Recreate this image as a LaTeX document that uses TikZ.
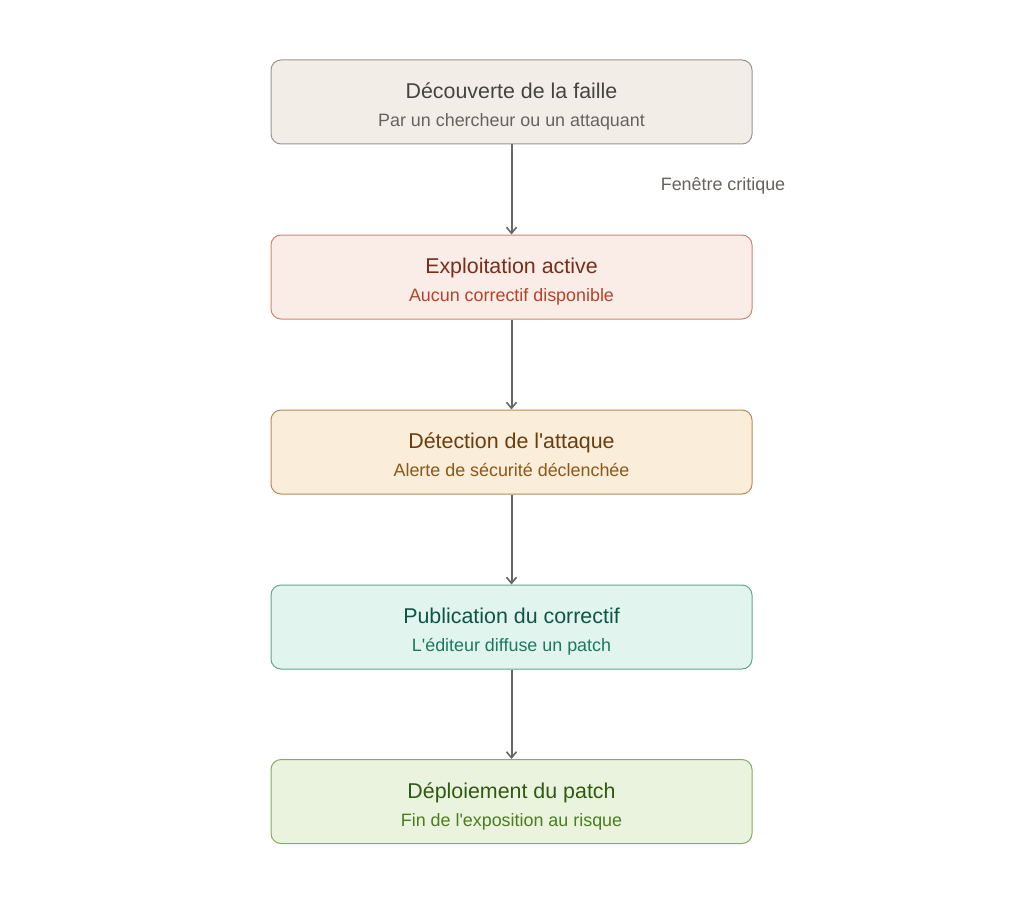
\documentclass[tikz,border=0pt]{standalone}
\usepackage{fontspec}
\setmainfont{Liberation Sans}[Ligatures=TeXOff]
\usetikzlibrary{arrows.meta}
\definecolor{f1}{HTML}{F2EEE7}\definecolor{d1}{HTML}{9A968F}\definecolor{t1}{HTML}{454340}\definecolor{s1}{HTML}{66625D}
\definecolor{f2}{HTML}{FAECE7}\definecolor{d2}{HTML}{C98873}\definecolor{t2}{HTML}{7A2E1A}\definecolor{s2}{HTML}{B3442A}
\definecolor{f3}{HTML}{FAEDDA}\definecolor{d3}{HTML}{B58C58}\definecolor{t3}{HTML}{6B3D0C}\definecolor{s3}{HTML}{8E5714}
\definecolor{f4}{HTML}{E1F4EE}\definecolor{d4}{HTML}{62A88C}\definecolor{t4}{HTML}{0F5546}\definecolor{s4}{HTML}{1A7A5E}
\definecolor{f5}{HTML}{EAF3DE}\definecolor{d5}{HTML}{86AA68}\definecolor{t5}{HTML}{2F5A12}\definecolor{s5}{HTML}{4B7D1E}
\definecolor{arr}{HTML}{666666}
\tikzset{
  stage/.style={rounded corners=10pt, line width=1pt, minimum width=481pt, minimum height=84pt, inner sep=0pt},
  ttl/.style={anchor=base, inner sep=0pt, font=\fontsize{21.4}{25}\selectfont},
  sub/.style={anchor=base, inner sep=0pt, font=\fontsize{17.9}{21}\selectfont},
  conn/.style={draw=arr, line width=2pt, -{Straight Barb[length=6pt,width=10pt,line width=1.6pt]}},
}
\begin{document}
\begin{tikzpicture}[x=1pt,y=-1pt]
\useasboundingbox (0,0) rectangle (1024,904);
\fill[white] (0,0) rectangle (1024,904);
\node[stage, fill=f1, draw=d1] (a) at (511.5,102) {};
\node[stage, fill=f2, draw=d2] (b) at (511.5,277) {};
\node[stage, fill=f3, draw=d3] (c) at (511.5,452) {};
\node[stage, fill=f4, draw=d4] (d) at (511.5,627) {};
\node[stage, fill=f5, draw=d5] (e) at (511.5,801.5) {};
\node[ttl, text=t1] (at) at ([yshift=3.5pt]a.center) {Découverte de la faille};
\node[sub, text=s1] (as) at ([yshift=-24.5pt]a.center) {Par un chercheur ou un attaquant};
\node[ttl, text=t2] (bt) at ([yshift=3.5pt]b.center) {Exploitation active};
\node[sub, text=s2] (bs) at ([yshift=-24.5pt]b.center) {Aucun correctif disponible};
\node[ttl, text=t3] (ct) at ([yshift=3.5pt]c.center) {Détection de l'attaque};
\node[sub, text=s3] (cs) at ([yshift=-24.5pt]c.center) {Alerte de sécurité déclenchée};
\node[ttl, text=t4] (dt) at ([yshift=3.5pt]d.center) {Publication du correctif};
\node[sub, text=s4] (ds) at ([yshift=-24.5pt]d.center) {L'éditeur diffuse un patch};
\node[ttl, text=t5] (et) at ([yshift=3.5pt]e.center) {Déploiement du patch};
\node[sub, text=s5] (es) at ([yshift=-24.5pt]e.center) {Fin de l'exposition au risque};
\node[text=s1, font=\fontsize{17.9}{21}\selectfont, inner sep=0pt] (lbl) at (723,186) {Fenêtre critique};
\draw[conn] (a) -- (b);
\draw[conn] (b) -- (c);
\draw[conn] (c) -- (d);
\draw[conn] (d) -- (e);
\end{tikzpicture}
\end{document}
